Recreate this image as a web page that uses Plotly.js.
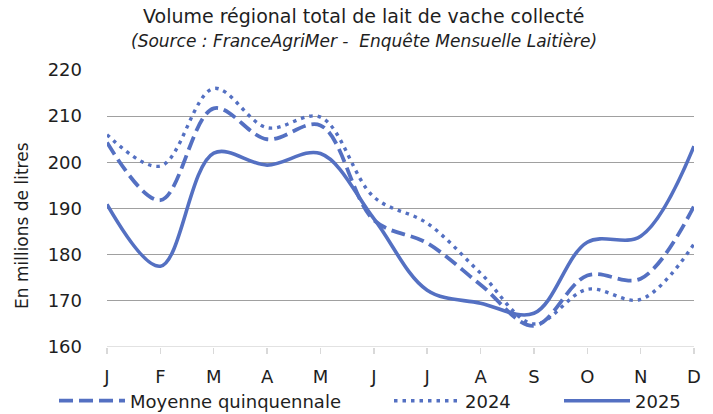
<!DOCTYPE html>
<html><head><meta charset="utf-8">
<script src="https://cdn.plot.ly/plotly-3.0.1.min.js"></script>
<style>html,body{margin:0;padding:0;background:#fff}#chart{width:713px;height:414px}</style>
</head><body><div id="chart"></div>
<script>
const months = ['J','F','M','A','M','J','J','A','S','O','N','D'];
const moyenne = [204.3, 191.8, 211.7, 205.0, 208.0, 187.5, 182.5, 173.5, 164.6, 175.5, 174.8, 190.5];
const y2024 = [206.0, 199.2, 216.0, 207.5, 209.8, 192.5, 186.8, 176.0, 165.0, 172.5, 170.3, 182.3];
const y2025 = [190.9, 177.5, 202.0, 199.4, 201.9, 187.8, 172.3, 169.5, 167.3, 182.7, 184.0, 203.5];
const yTicks = [160, 170, 180, 190, 200, 210, 220];

const xs = months.map((m, i) => i);
const col = '#5470C2';
const font = '"DejaVu Sans", Verdana, sans-serif';
const txt = '#1e1e1e';

const traces = [
  {x: xs, y: moyenne, name: 'Moyenne quinquennale', mode: 'lines', legend: 'legend',
   line: {color: col, width: 3.8, dash: '14px,6px', shape: 'spline', smoothing: 1}},
  {x: xs, y: y2024, name: '2024', mode: 'lines', legend: 'legend2',
   line: {color: col, width: 3.4, dash: '3.5px,5px', shape: 'spline', smoothing: 1}},
  {x: xs, y: y2025, name: '2025', mode: 'lines', legend: 'legend3',
   line: {color: col, width: 3.6, shape: 'spline', smoothing: 1}}
];

const plotL = 107, plotR = 694, plotT = 70, plotB = 347;
const pw = plotR - plotL, ph = plotB - plotT;

const legBase = {orientation: 'h', xref: 'paper', yref: 'container', yanchor: 'middle',
  y: 1 - 401/414, xanchor: 'left', font: {family: font, size: 18, color: txt},
  bgcolor: 'rgba(0,0,0,0)', itemwidth: 66, tracegroupgap: 0};

const layout = {
  width: 713, height: 414,
  margin: {l: plotL, r: 713 - plotR, t: plotT, b: 414 - plotB},
  paper_bgcolor: '#fff', plot_bgcolor: '#fff',
  showlegend: true,
  hovermode: false,
  font: {family: font, color: txt},
  xaxis: {
    range: [0, 11], tickvals: xs, ticktext: months,
    showgrid: false, zeroline: false,
    showline: false, ticks: 'outside', ticklen: 6, tickcolor: '#d9d9d9', tickwidth: 1.5,
    ticklabelstandoff: 7,
    tickfont: {family: font, size: 18, color: txt}
  },
  yaxis: {
    range: [160, 220], tickvals: yTicks,
    showgrid: true, gridcolor: '#a0a0a0', gridwidth: 1, zeroline: false, showline: false,
    ticks: '', ticklabelstandoff: 24,
    tickfont: {family: font, size: 18, color: txt}
  },
  shapes: [
    {type: 'line', xref: 'paper', yref: 'y', x0: 0, x1: 1, y0: 160, y1: 160,
     line: {color: '#d9d9d9', width: 1.5}, layer: 'below'}
  ],
  annotations: [
    {text: 'Volume régional total de lait de vache collecté', xref: 'paper', yref: 'paper',
     x: (364 - plotL) / pw, y: (plotB - 16) / ph, xanchor: 'center', yanchor: 'middle', showarrow: false,
     font: {family: font, size: 19, color: txt}},
    {text: '<i>(Source : FranceAgriMer -  Enquête Mensuelle Laitière)</i>', xref: 'paper', yref: 'paper',
     x: (364 - plotL) / pw, y: (plotB - 41) / ph, xanchor: 'center', yanchor: 'middle', showarrow: false,
     font: {family: font, size: 17, color: txt}},
    {text: 'En millions de litres', xref: 'paper', yref: 'paper', textangle: -90,
     x: (22 - plotL) / pw, y: (plotB - 226) / ph, xanchor: 'center', yanchor: 'middle', showarrow: false,
     font: {family: font, size: 17, color: txt}}
  ],
  legend: Object.assign({}, legBase, {x: (54 - plotL) / pw}),
  legend2: Object.assign({}, legBase, {x: (389 - plotL) / pw}),
  legend3: Object.assign({}, legBase, {x: (559 - plotL) / pw})
};

Plotly.newPlot('chart', traces, layout, {displayModeBar: false, staticPlot: true});
</script></body></html>
